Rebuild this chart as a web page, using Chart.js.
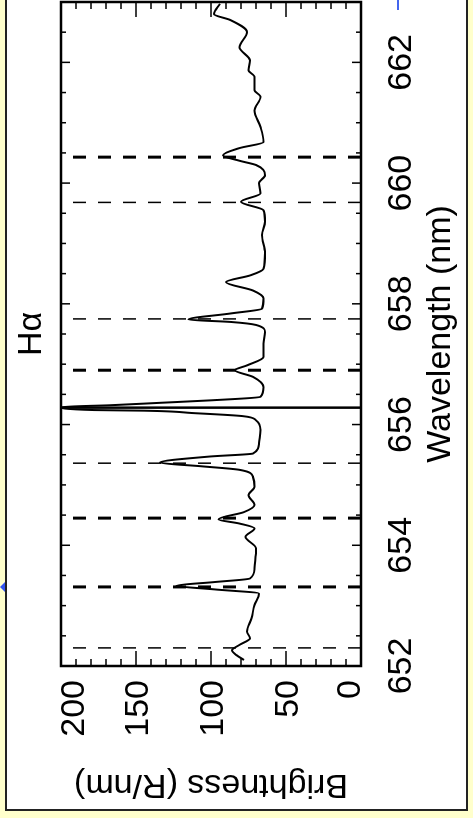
<!DOCTYPE html>
<html>
<head>
<meta charset="utf-8">
<script src="https://cdn.jsdelivr.net/npm/chart.js@4.4.1/dist/chart.umd.min.js"></script>
<style>
  html, body { margin: 0; padding: 0; }
  body { width: 473px; height: 818px; background: #ffffcc; position: relative; overflow: hidden; }
  #frame { position: absolute; left: 5px; top: -10px; width: 459px; height: 817px; border: 2px solid #222; background: #fff; }
  #wrap { position: absolute; left: 0; top: 818px; width: 818px; height: 473px; transform-origin: 0 0; transform: rotate(-90deg); }
  .blue1 { position: absolute; left: 397px; top: 0; width: 2px; height: 10px; background: #4466ee; }
  .blue2 { position: absolute; left: 0; top: 582px; width: 0; height: 0; border-top: 5px solid transparent; border-bottom: 5px solid transparent; border-right: 5px solid #3355ee; }
</style>
</head>
<body>
<div id="frame"></div>
<div class="blue1"></div>
<div class="blue2"></div>
<div id="wrap"><canvas id="spec" width="818" height="473"></canvas></div>
<script>
// spectrum
const wavelengths = [
  652.10, 652.18, 652.26, 652.35, 652.46, 652.57, 652.79, 653.01, 653.20, 653.27,
  653.33, 653.39, 653.45, 653.62, 653.95, 654.14, 654.28, 654.36, 654.43, 654.55,
  654.67, 654.83, 654.97, 655.13, 655.25, 655.31, 655.37, 655.47, 655.52, 655.69,
  655.91, 656.07, 656.14, 656.19, 656.23, 656.24, 656.29, 656.32, 656.36, 656.40,
  656.46, 656.62, 656.79, 656.90, 656.98, 657.12, 657.34, 657.53, 657.65, 657.70,
  657.74, 657.84, 657.92, 658.09, 658.22, 658.36, 658.47, 658.58, 658.84, 659.14,
  659.36, 659.55, 659.69, 659.83, 660.00, 660.13, 660.30, 660.37, 660.46, 660.58,
  660.68, 660.93, 661.20, 661.43, 661.54, 661.76, 661.87, 662.03, 662.25, 662.50,
  662.70, 662.80, 662.97
];
const brightness = [
  78, 83, 86, 81, 74, 76, 73, 71, 68, 98,
  123, 98, 74, 71, 70, 77, 71, 81, 95, 78,
  71, 75, 71, 72, 81, 107, 134, 101, 72, 68,
  67, 70, 79, 112, 145, 178, 200, 167, 134, 101,
  67, 65, 72, 84, 76, 65, 65, 64, 70, 87,
  115, 87, 66, 65, 72, 90, 74, 65, 64, 66,
  64, 65, 80, 67, 68, 64, 70, 81, 92, 81,
  65, 67, 71, 67, 71, 71, 75, 74, 81, 76,
  87, 98, 94
];

// marker lines
const thinLines = [652.30, 655.36, 657.75, 659.68];
const thickLines = [653.31, 654.45, 656.90, 660.43];
const halphaLine = [656.28];

const wavelengthTicks = [652, 654, 656, 658, 660, 662];
const brightnessTicks = [0, 50, 100, 150, 200];

const font = { family: "'Liberation Sans', Arial, sans-serif", size: 34, weight: 'normal' };

function markerSet(list, width, dash) {
  return list.map(w => ({
    data: [{ x: w, y: 0 }, { x: w, y: 200 }],
    showLine: true,
    borderColor: '#000',
    borderWidth: width,
    borderDash: dash,
    pointRadius: 0
  }));
}

const datasets = [
  ...markerSet(thinLines, 1.5, [13, 12]),
  ...markerSet(thickLines, 3, [13, 12]),
  ...markerSet(halphaLine, 2.5, []),
  {
    data: wavelengths.map((w, i) => ({ x: w, y: brightness[i] })),
    showLine: true,
    borderColor: '#000',
    borderWidth: 2,
    pointRadius: 0,
    cubicInterpolationMode: 'monotone'
  }
];

/* box and inward ticks, IDL style */
const idlBox = {
  id: 'idlBox',
  beforeDraw(chart) {
    // IDL keeps the end labels inside the axis range
    const items = chart.scales.y.getLabelItems();
    items.forEach(it => {
      if (it.label === '200') it.options.translation[1] += 11;
      if (it.label === '0') it.options.translation[1] -= 13;
    });
  },
  afterDatasetsDraw(chart) {
    const { ctx, chartArea: a, scales: { x, y } } = chart;
    ctx.save();
    ctx.strokeStyle = '#000';
    ctx.lineWidth = 1.5;
    ctx.beginPath();
    for (let w = 652; w <= 663.001; w += 0.5) {
      const px = x.getPixelForValue(w);
      const len = wavelengthTicks.includes(Math.round(w * 10) / 10) ? 9 : 5;
      ctx.moveTo(px, a.bottom); ctx.lineTo(px, a.bottom - len);
      ctx.moveTo(px, a.top); ctx.lineTo(px, a.top + len);
    }
    for (let b = 0; b <= 200; b += 10) {
      const py = y.getPixelForValue(b);
      const len = b % 50 === 0 ? 15 : 7;
      ctx.moveTo(a.left, py); ctx.lineTo(a.left + len, py);
      ctx.moveTo(a.right, py); ctx.lineTo(a.right - len, py);
    }
    ctx.stroke();
    ctx.lineWidth = 2.5;
    ctx.strokeRect(a.left, a.top, a.right - a.left, a.bottom - a.top);
    ctx.restore();
  }
};

new Chart(document.getElementById('spec'), {
  type: 'scatter',
  data: { datasets: datasets },
  options: {
    responsive: false,
    animation: false,
    layout: { padding: { left: 0, right: 2, top: 0, bottom: 0 } },
    plugins: {
      legend: { display: false },
      tooltip: { enabled: false },
      title: { display: false }
    },
    scales: {
      x: {
        type: 'linear',
        min: 652,
        max: 663,
        afterBuildTicks: s => { s.ticks = wavelengthTicks.map(v => ({ value: v })); },
        afterFit: s => { s.height = 112; },
        ticks: { color: '#000', font: font, padding: 20, maxRotation: 0, autoSkip: false },
        grid: { display: false, drawTicks: false },
        border: { display: false },
        title: {
          display: true,
          text: 'Wavelength (nm)',
          color: '#000',
          font: font,
          padding: { top: 0, bottom: 12 }
        }
      },
      top: {
        type: 'linear',
        axis: 'x',
        position: 'top',
        min: 652,
        max: 663,
        afterFit: s => { s.height = 61; },
        ticks: { display: false },
        grid: { display: false, drawTicks: false },
        border: { display: false },
        title: {
          display: true,
          text: 'Hα',
          color: '#000',
          font: font,
          padding: { top: 11, bottom: 0 }
        }
      },
      y: {
        type: 'linear',
        min: 0,
        max: 200,
        afterBuildTicks: s => { s.ticks = brightnessTicks.map(v => ({ value: v })); },
        afterFit: s => { s.width = 152; },
        ticks: { color: '#000', font: font, padding: 14, labelOffset: 3 },
        grid: { display: false, drawTicks: false },
        border: { display: false },
        title: {
          display: true,
          text: 'Brightness (R/nm)',
          color: '#000',
          font: font,
          padding: { top: 13, bottom: 0 }
        }
      }
    }
  },
  plugins: [idlBox]
});
</script>
</body>
</html>
